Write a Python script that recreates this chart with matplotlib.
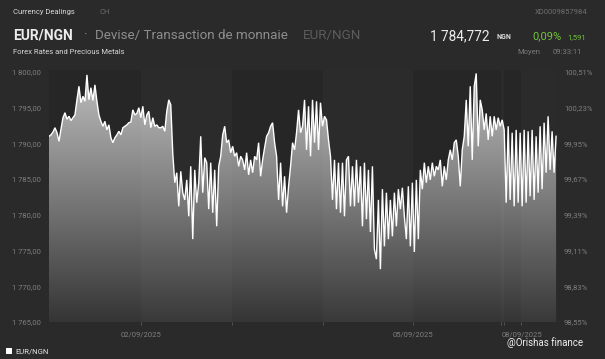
import numpy as np
import matplotlib
matplotlib.use("Agg")
import matplotlib.pyplot as plt
from matplotlib.colors import LinearSegmentedColormap
from matplotlib.patches import PathPatch, Rectangle

plt.rcParams['font.family'] = ['Roboto', 'DejaVu Sans']

# ---- data -----------------------------------------------------------
rate = [
    1791.0, 1791.2, 1791.6, 1792.2, 1791.5, 1790.3, 1792.0, 1793.6, 1794.3, 1793.4,
    1793.8, 1793.2, 1793.6, 1794.0, 1796.1, 1798.0, 1795.7, 1796.6, 1795.9, 1799.6,
    1796.1, 1797.8, 1796.0, 1798.2, 1795.9, 1794.0, 1793.1, 1792.4, 1793.1, 1791.9,
    1792.6, 1790.8, 1790.1, 1790.8, 1791.2, 1791.7, 1791.2, 1792.2, 1792.4, 1792.6,
    1792.9, 1793.0, 1794.7, 1794.0, 1794.2, 1795.0, 1793.6, 1795.2, 1792.6, 1794.0,
    1794.5, 1792.2, 1793.6, 1792.4, 1792.6, 1792.2, 1792.2, 1792.4, 1791.7, 1794.5,
    1796.1, 1795.4, 1788.6, 1784.5, 1785.9, 1781.2, 1786.1, 1783.1, 1782.1, 1784.9,
    1779.8, 1786.8, 1776.6, 1786.3, 1781.7, 1784.5, 1791.0, 1783.1, 1788.0, 1787.3,
    1780.8, 1787.3, 1780.3, 1786.3, 1778.4, 1786.8, 1788.2, 1791.2, 1792.4, 1790.1,
    1790.5, 1788.7, 1789.6, 1788.2, 1788.7, 1786.8, 1788.2, 1787.7, 1786.3, 1788.7,
    1785.6, 1787.7, 1785.9, 1788.2, 1787.7, 1790.1, 1785.4, 1787.7, 1789.4, 1791.0,
    1791.5, 1792.4, 1792.9, 1790.1, 1788.2, 1782.1, 1787.3, 1781.2, 1785.4, 1780.3,
    1784.0, 1786.8, 1790.1, 1789.1, 1791.5, 1794.7, 1791.5, 1792.4, 1796.1, 1789.1,
    1795.2, 1788.2, 1796.1, 1790.1, 1795.9, 1789.1, 1795.7, 1792.4, 1793.8, 1793.3,
    1790.5, 1788.2, 1782.1, 1787.7, 1780.8, 1787.3, 1780.3, 1787.3, 1779.8, 1787.7,
    1788.2, 1781.2, 1786.8, 1781.2, 1787.7, 1781.7, 1786.8, 1778.4, 1787.3, 1779.4,
    1786.3, 1777.6, 1786.8, 1775.2, 1773.8, 1782.1, 1772.4, 1783.6, 1775.6, 1783.1,
    1776.6, 1782.1, 1777.0, 1783.1, 1778.4, 1783.6, 1780.8, 1783.8, 1779.8, 1776.6,
    1784.0, 1775.6, 1784.5, 1774.8, 1784.9, 1776.6, 1786.3, 1783.6, 1787.3, 1784.5,
    1786.8, 1784.9, 1787.3, 1785.4, 1786.8, 1786.3, 1787.7, 1784.0, 1786.8, 1784.9,
    1787.7, 1789.1, 1787.7, 1790.1, 1790.5, 1788.2, 1784.0, 1789.1, 1791.0, 1796.1,
    1789.6, 1798.0, 1787.7, 1798.0, 1799.8, 1789.6, 1796.1, 1794.7, 1791.9, 1794.2,
    1790.5, 1793.8, 1791.0, 1793.8, 1791.9, 1793.6, 1792.4, 1793.3, 1791.9, 1781.7,
    1792.4, 1782.1, 1791.5, 1781.2, 1791.9, 1781.7, 1791.5, 1781.2, 1791.9, 1781.7,
    1791.7, 1782.6, 1791.9, 1782.1, 1791.0, 1783.1, 1792.4, 1783.6, 1792.9, 1785.9,
    1793.8, 1786.3, 1791.7, 1785.9, 1791.0,
]
series_end = 5.57            # position (in trading-day units) of the last quote
day_edges = [0, 1.01, 2.01, 3.01, 4.0, 4.97, 5.0, 5.19, 5.58]
date_labels = ['02/09/2025', '', '', '05/09/2025', '', '', '08/09/2025']
left_ticks = [1765, 1770, 1775, 1780, 1785, 1790, 1795, 1800]
right_labels = ['98,55%', '98,83%', '99,11%', '99,39%', '99,67%', '99,95%', '100,23%', '100,51%']

# ---- figure ---------------------------------------------------------
W, H = 605, 359
BG = '#2a2a2a'
fig = plt.figure(figsize=(W / 100, H / 100), dpi=100, facecolor=BG)
ax = fig.add_axes([49 / W, 1 - 322 / H, (557 - 49) / W, (322 - 70) / H])
ax.set_facecolor('#262626')
ymin, ymax = 1765, 1800.28
xmax = day_edges[-1]
ax.set_xlim(0, xmax)
ax.set_ylim(ymin, ymax)

x = np.linspace(0, series_end, len(rate))
y = np.array(rate)

# gradient area fill
cmap = LinearSegmentedColormap.from_list('g', ['#353535', '#bfbfbf'])
grad = np.linspace(1, 0, 256).reshape(-1, 1)
im = ax.imshow(grad, extent=[0, xmax, ymin, ymax], aspect='auto', cmap=cmap,
               origin='upper', zorder=1, interpolation='bicubic')
poly = ax.fill_between(x, y, ymin, color='none', lw=0)
clip = PathPatch(poly.get_paths()[0], transform=ax.transData,
                 facecolor='none', edgecolor='none')
ax.add_patch(clip)
im.set_clip_path(clip)

# alternating day bands
for i in range(1, len(day_edges) - 1, 2):
    ax.axvspan(day_edges[i], day_edges[i + 1], color='white', alpha=0.024, lw=0, zorder=2)

ax.plot(x, y, color='white', lw=1.0, zorder=3, solid_joinstyle='miter')

for s in ax.spines.values():
    s.set_visible(False)

tick_col = '#7e7e7e'
ax.set_yticks(left_ticks)
ax.set_yticklabels([f"{int(v)//1000} {int(v)%1000:03d},00" for v in left_ticks])
ax.tick_params(axis='y', length=0, pad=6, labelsize=5.5, labelcolor=tick_col)
ax.set_xticks(day_edges[1:-1])
ax.set_xticklabels(date_labels)
ax.tick_params(axis='x', length=2.5, width=0.6, color='#5a5a5a', pad=4,
               labelsize=5.5, labelcolor=tick_col)

ax2 = ax.twinx()
ax2.set_ylim(ymin, ymax)
ax2.set_yticks(left_ticks)
ax2.set_yticklabels(right_labels)
ax2.tick_params(axis='y', length=0, pad=5, labelsize=5.5, labelcolor=tick_col)
for s in ax2.spines.values():
    s.set_visible(False)

# ---- header / footer text -------------------------------------------
def t(px, py, s, **kw):
    fig.text(px / W, 1 - py / H, s, va='center', **kw)

t(13, 12, 'Currency Dealings', fontsize=5.5, color='#d8d8d8')
t(100, 12, 'CH', fontsize=5.5, color='#6e6e6e')
t(587, 12, 'XD0009857984', fontsize=5.5, color='#6e6e6e', ha='right')
t(13, 36, 'EUR/NGN', fontsize=10, color='#ececec', fontweight='bold')
t(84, 36, '·', fontsize=10, color='#8a8a8a')
t(95, 36, 'Devise/ Transaction de monnaie', fontsize=9.6, color='#8e8e8e')
t(303, 36, 'EUR/NGN', fontsize=9.6, color='#5c5c5c')
t(489, 36, '1 784,772', fontsize=9.8, color='#ececec', ha='right')
t(497, 37, 'NGN', fontsize=5, color='#dcdcdc', fontweight='bold')
t(532, 36, '0,09%', fontsize=8, color='#74c43c')
t(567, 37, '1,591', fontsize=5.5, color='#74c43c')
t(13, 52, 'Forex Rates and Precious Metals', fontsize=5.5, color='#d8d8d8')
t(517, 52, 'Moyen', fontsize=5.5, color='#7a7a7a')
t(553, 52, '09:33:11', fontsize=5.5, color='#7a7a7a')

fig.patches.append(Rectangle((6 / W, 1 - 354 / H), 6 / W, 6 / H,
                             transform=fig.transFigure, facecolor='white', edgecolor='none'))
t(15, 351, 'EUR/NGN', fontsize=5.5, color='#e6e6e6')
t(507, 343, '@Orishas finance', fontsize=7, color='#f0f0f0')

fig.savefig('out.png', dpi=100, facecolor=BG)
